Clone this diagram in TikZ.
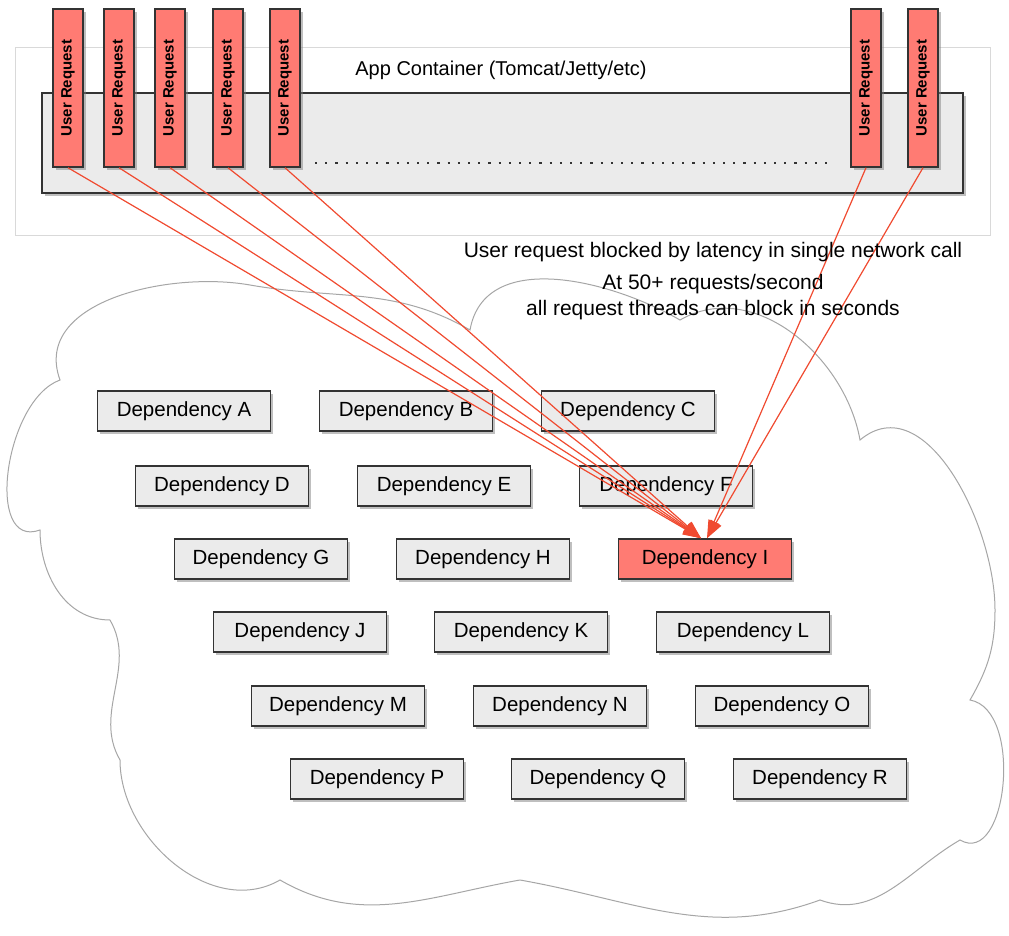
\documentclass[tikz,border=0pt]{standalone}
\usepackage{fontspec}
\setmainfont{Liberation Sans}
\usetikzlibrary{shadows,arrows.meta}
\definecolor{reqred}{HTML}{FF7B73}
\definecolor{boxgray}{HTML}{EBEBEB}
\definecolor{linered}{HTML}{F04A30}
\tikzset{
  req/.style={draw=black!80, line width=1.5pt, fill=reqred, minimum width=30, minimum height=158, inner sep=0pt, drop shadow={opacity=0.5}},
  dep/.style={draw=black!80, line width=1.5pt, fill=boxgray, minimum width=173, minimum height=40, inner sep=0pt, font=\fontsize{20.5}{24}\selectfont, drop shadow={opacity=0.5}},
  call/.style={draw=linered, line width=1.2pt, -{Triangle[length=18pt,width=12pt]}},
}
\begin{document}
\begin{tikzpicture}[x=1pt,y=-1pt]
  \useasboundingbox (0,0) rectangle (1009,936);
  % cloud
  \draw[black!35, fill=white, line width=1pt]
    (40,530) to[out=200,in=200] (60,380) to[out=110,in=170] (250,285)
    to[out=-10,in=150] (470,330) to[out=80,in=150] (680,320)
    to[out=30,in=100] (860,440) to[out=40,in=90] (995,610)
    to[out=-90,in=60] (970,700) to[out=-10,in=-30] (960,840)
    to[out=-150,in=-20] (820,900) to[out=-160,in=-10] (520,880)
    to[out=-170,in=-30] (280,880) to[out=-150,in=-90] (120,760)
    to[out=120,in=-60] (110,620) to[out=180,in=-90] (40,530) -- cycle;
  % container
  \draw[black!15, line width=1pt] (15,48) rectangle (990,235);
  \draw[black!80, line width=1.5pt, fill=boxgray, drop shadow={opacity=0.5}] (42,93) rectangle (963,193);
  \node[font=\fontsize{20}{24}\selectfont] (title) at (501,70) {App Container (Tomcat/Jetty/etc)};
  \draw[black!80, line width=2.2pt, dash pattern=on 2.2pt off 8pt] (315,163) -- (832,163);
  % requests
  \foreach \x [count=\i] in {68,119,170,228,285,866,923}
    \node[req] (r\i) at (\x,88) {\rotatebox{90}{\fontsize{15}{17}\selectfont\bfseries User Request}};
  % dependencies
  \foreach \n/\x/\y in {A/184/411,B/406/411,C/628/411,D/222/486,E/444/486,F/666/486,
      G/261/559,H/483/559,J/300/632,K/521/632,L/743/632,M/338/706,N/560/706,O/782/706,
      P/377/779,Q/598/779,R/820/779}
    \node[dep] (d\n) at (\x,\y) {Dependency \n};
  \node[dep, fill=reqred] (dI) at (705,559) {Dependency I};
  % calls
  \foreach \i in {1,...,5}
    \draw[call] (r\i.south) -- ([xshift=-4]dI.north);
  \foreach \i in {6,7}
    \draw[call] (r\i.south) -- ([xshift=2]dI.north);
  % notes
  \node[font=\fontsize{21}{25}\selectfont] (note1) at (713,252) {User request blocked by latency in single network call};
  \node[font=\fontsize{21}{26}\selectfont, align=center] (note2) at (713,297) {At 50+ requests/second\\all request threads can block in seconds};
\end{tikzpicture}
\end{document}
